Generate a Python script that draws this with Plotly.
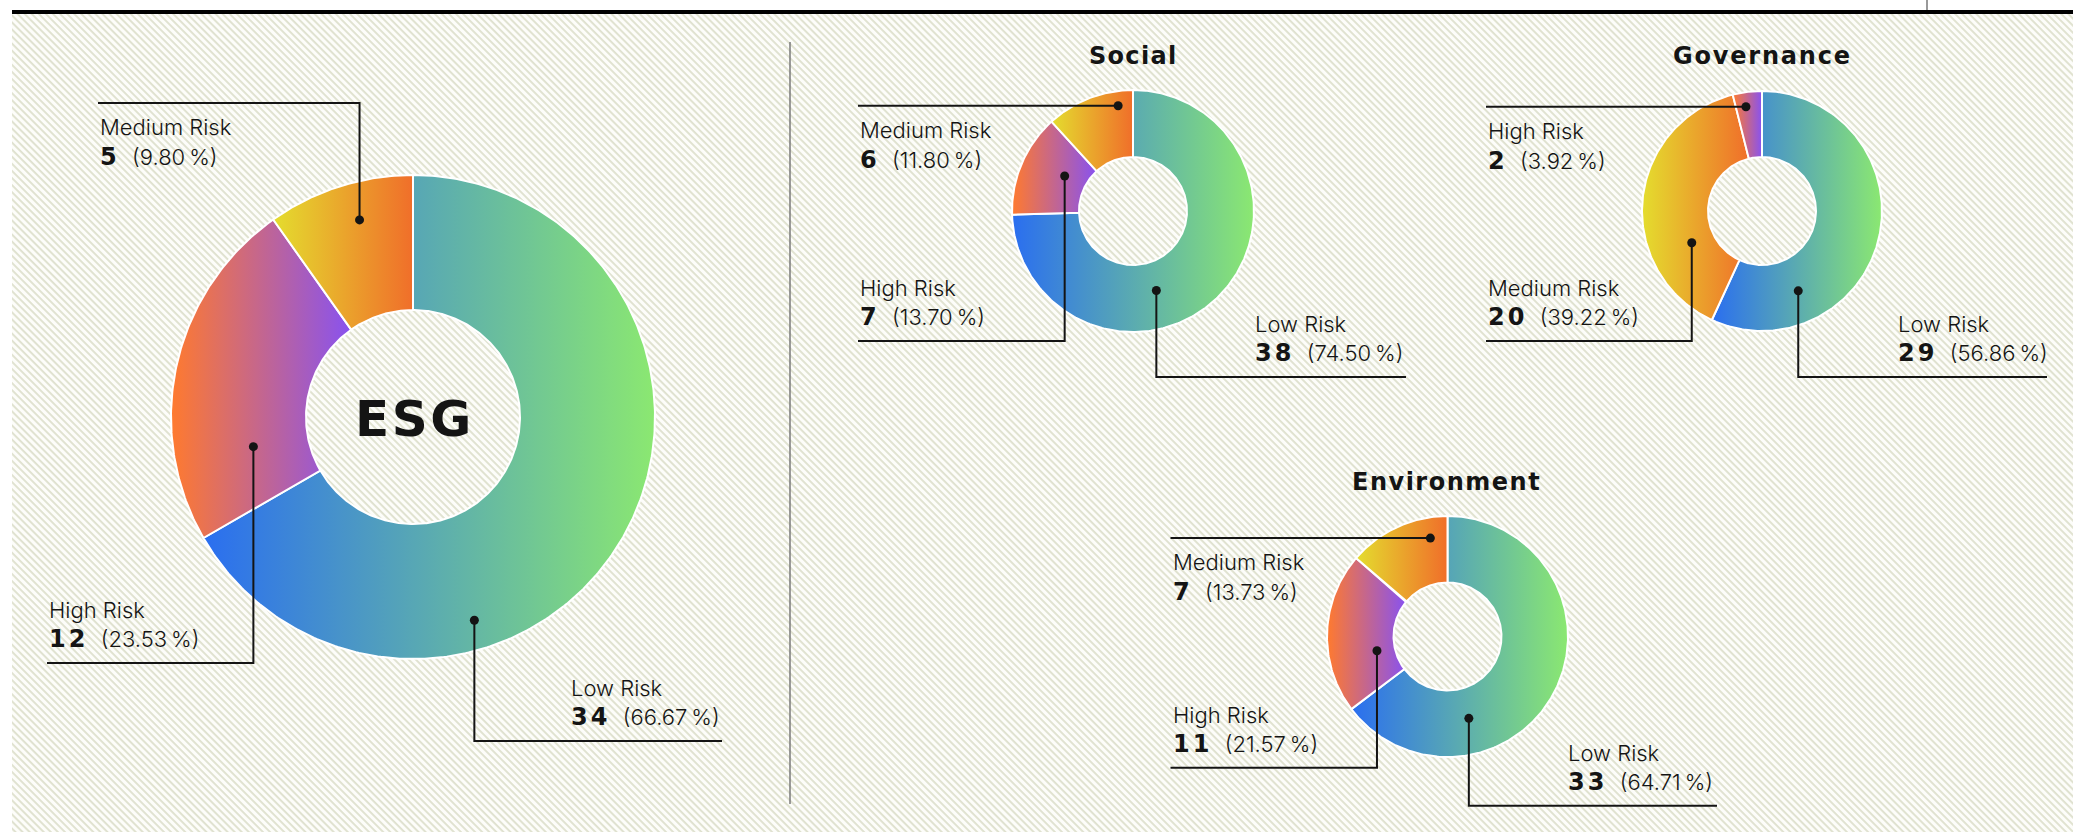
import base64
import numpy as np
import plotly.graph_objects as go

# ---------------- data ----------------
esg_labels = ["Low Risk", "High Risk", "Medium Risk"]
esg_counts = [34, 12, 5]
esg_pcts = [66.67, 23.53, 9.80]

social_labels = ["Low Risk", "High Risk", "Medium Risk"]
social_counts = [38, 7, 6]
social_pcts = [74.50, 13.70, 11.80]

governance_labels = ["Low Risk", "Medium Risk", "High Risk"]
governance_counts = [29, 20, 2]
governance_pcts = [56.86, 39.22, 3.92]

environment_labels = ["Low Risk", "High Risk", "Medium Risk"]
environment_counts = [33, 11, 7]
environment_pcts = [64.71, 21.57, 13.73]

# ---------------- styling ----------------
W, H = 2073, 832
INK = "#141414"

# horizontal gradient (left -> right) used for each risk level
GRADIENTS = {
    "Low Risk": ("#2a6ef0", "#8be871"),
    "High Risk": ("#ff7a2e", "#8852f0"),
    "Medium Risk": ("#e4dd2e", "#f06e2a"),
}

NAME_FONT = dict(family="Inter", size=22, color=INK, weight=300)
NUM_STYLE = "font-family:'DejaVu Sans';font-weight:bold;font-size:24px;letter-spacing:3px;"
TITLE_FONT = dict(family="DejaVu Sans", size=24, color=INK, weight=700)

# donut layout: centre, outer/inner radius (px), title and its position,
# and one callout per slice: (angle fraction in slice, radial fraction,
# elbow level or None, far end of the leader, left edge of the text)
CHARTS = [
    dict(labels=esg_labels, counts=esg_counts, pcts=esg_pcts,
         cx=413, cy=417, r_out=242, r_in=107,
         title="ESG", title_xy=(414, 419), title_size=50, title_track=2.5,
         callouts=[(0.68, 0.78, 741, 722, 569),
                   (0.23, 0.41, 663, 47, 47),
                   (0.57, 0.72, 103, 98, 98)]),
    dict(labels=social_labels, counts=social_counts, pcts=social_pcts,
         cx=1133, cy=211, r_out=121, r_in=54,
         title="Social", title_xy=(1133, 56), title_size=24, title_track=1.3,
         callouts=[(0.61, 0.43, 377, 1406, 1253),
                   (0.585, 0.34, 341, 858, 858),
                   (0.81, 0.78, None, 858, 858)]),
    dict(labels=governance_labels, counts=governance_counts, pcts=governance_pcts,
         cx=1762, cy=211, r_out=120, r_in=54,
         title="Governance", title_xy=(1762, 56), title_size=24, title_track=1.8,
         callouts=[(0.76, 0.51, 377, 2047, 1896),
                   (0.29, 0.35, 341, 1486, 1486),
                   (0.38, 0.78, None, 1486, 1486)]),
    dict(labels=environment_labels, counts=environment_counts, pcts=environment_pcts,
         cx=1447.5, cy=636.5, r_out=120.5, r_in=54,
         title="Environment", title_xy=(1446, 482), title_size=24, title_track=1.5,
         callouts=[(0.71, 0.46, 805.7, 1717, 1566),
                   (0.33, 0.27, 767.7, 1170.5, 1170.5),
                   (0.80, 0.69, None, 1170.5, 1170.5)]),
]


def slice_ring(cx, cy, r_out, r_in, a0, a1):
    """Annular sector, angles in degrees clockwise from 12 o'clock."""
    n = max(int(abs(a1 - a0) / 0.75) + 2, 4)
    th = np.radians(np.linspace(a0, a1, n))
    xs = np.concatenate([cx + r_out * np.sin(th), cx + r_in * np.sin(th[::-1])])
    ys = np.concatenate([cy - r_out * np.cos(th), cy - r_in * np.cos(th[::-1])])
    return np.append(xs, xs[0]), np.append(ys, ys[0])


fig = go.Figure()
annotations = []

for ch in CHARTS:
    counts = ch["counts"]
    edges = np.concatenate([[0], np.cumsum(counts)]) / sum(counts) * 360.0
    cx, cy, ro, ri = ch["cx"], ch["cy"], ch["r_out"], ch["r_in"]

    # slices
    for i, lab in enumerate(ch["labels"]):
        xs, ys = slice_ring(cx, cy, ro, ri, edges[i], edges[i + 1])
        c0, c1 = GRADIENTS[lab]
        fig.add_trace(go.Scatter(
            x=xs, y=ys, mode="lines", fill="toself",
            line=dict(color="white", width=2),
            fillgradient=dict(type="horizontal", colorscale=[[0, c0], [1, c1]]),
            hoverinfo="skip", showlegend=False))

    # callouts
    for i, lab in enumerate(ch["labels"]):
        t, rf, level, far_x, text_x = ch["callouts"][i]
        a0, a1 = edges[i], edges[i + 1]
        ang = np.radians(a0 + t * (a1 - a0))
        rad = ri + rf * (ro - ri)
        dx, dy = cx + rad * np.sin(ang), cy - rad * np.cos(ang)
        if level is None:
            level = dy
        fig.add_trace(go.Scatter(
            x=[dx, dx, far_x], y=[dy, level, level], mode="lines",
            line=dict(color=INK, width=2), hoverinfo="skip", showlegend=False))
        fig.add_trace(go.Scatter(
            x=[dx], y=[dy], mode="markers",
            marker=dict(color=INK, size=9), hoverinfo="skip", showlegend=False))

        if level <= dy + 0.5:   # leader runs up -> text sits under the line
            b_name, b_val = level + 32, level + 62
        else:                   # leader runs down -> text sits above the line
            b_name, b_val = level - 45, level - 16
        sz = NAME_FONT["size"]
        annotations.append(dict(
            x=text_x, y=b_name - 0.36 * sz, xref="x", yref="y",
            text=lab, showarrow=False, xanchor="left", yanchor="middle",
            font=NAME_FONT))
        val_txt = (f"<span style=\"{NUM_STYLE}\">{ch['counts'][i]}</span>"
                   f"\u00a0\u00a0({ch['pcts'][i]:.2f}\u2009%)")
        annotations.append(dict(
            x=text_x, y=b_val - 0.36 * sz, xref="x", yref="y",
            text=val_txt, showarrow=False, xanchor="left", yanchor="middle",
            font=NAME_FONT))

    tx, ty = ch["title_xy"]
    annotations.append(dict(
        x=tx, y=ty, xref="x", yref="y",
        text=f"<span style=\"letter-spacing:{ch['title_track']}px\">{ch['title']}</span>",
        showarrow=False, xanchor="center", yanchor="middle",
        font=dict(TITLE_FONT, size=ch["title_size"])))

# hatched backdrop
hatch_svg = (
    '<svg xmlns="http://www.w3.org/2000/svg" width="2061" height="818" '
    'viewBox="0 0 2061 818" preserveAspectRatio="none">'
    '<defs><pattern id="h" patternUnits="userSpaceOnUse" width="5" height="5" '
    'patternTransform="rotate(45)">'
    '<rect width="5" height="1.9" fill="#dfe1cf"/></pattern></defs>'
    '<rect width="100%" height="100%" fill="#fdfdfa"/>'
    '<rect width="100%" height="100%" fill="url(#h)"/></svg>'
)
hatch_src = "data:image/svg+xml;base64," + base64.b64encode(hatch_svg.encode()).decode()

shapes = [
    # top rule
    dict(type="line", xref="x", yref="y", x0=12, x1=W, y0=12, y1=12,
         line=dict(color="#000", width=4)),
    dict(type="line", xref="x", yref="y", x0=1927, x1=1927, y0=0, y1=10,
         line=dict(color="#777", width=1.5)),
    # divider between overall and pillar donuts
    dict(type="line", xref="x", yref="y", x0=790, x1=790, y0=42, y1=804,
         line=dict(color="#7a7a7a", width=1.5)),
]

fig.update_layout(
    width=W, height=H, autosize=False,
    margin=dict(l=0, r=0, t=0, b=0, pad=0),
    paper_bgcolor="white", plot_bgcolor="rgba(0,0,0,0)",
    xaxis=dict(range=[0, W], visible=False, fixedrange=True, domain=[0, 1]),
    yaxis=dict(range=[H, 0], visible=False, fixedrange=True, domain=[0, 1]),
    images=[dict(source=hatch_src, xref="paper", yref="paper",
                 x=12 / W, y=1 - 14 / H, sizex=(W - 12) / W, sizey=(H - 14) / H,
                 xanchor="left", yanchor="top", sizing="stretch", layer="below")],
    shapes=shapes,
    annotations=annotations,
    showlegend=False,
)

fig.write_html("out.html", config={"displayModeBar": False})
